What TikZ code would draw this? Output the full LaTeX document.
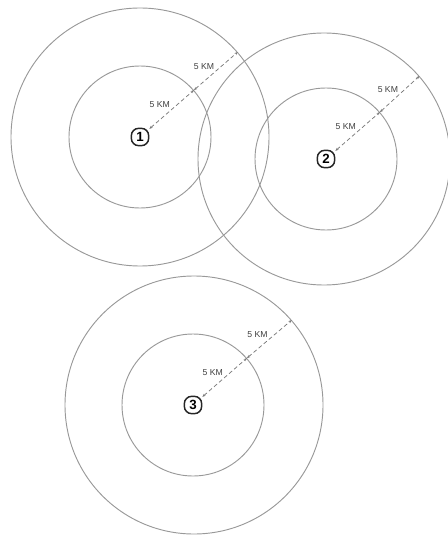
\documentclass[tikz,border=0pt]{standalone}
\usepackage{fontspec}
\setsansfont{Liberation Sans}
\usetikzlibrary{arrows.meta}

\begin{document}
\begin{tikzpicture}[
    x=0.75pt, y=-0.75pt,
    ring/.style={draw=gray!80, line width=0.7pt, circle, inner sep=0pt},
    inner ring/.style={ring, minimum size=106.5pt},
    site/.style={draw=black!85, line width=1.1pt, rounded corners=5.5pt, minimum size=13pt, inner sep=0pt, font=\sffamily\bfseries},
    radius/.style={gray!95!black, line width=0.55pt, densely dashed, {Stealth[length=2.5pt,width=2pt]}-{Stealth[length=2.5pt,width=2pt]}},
    dist/.style={font=\sffamily\fontsize{6.5}{7}\selectfont, text=black!75, inner sep=1pt}
]
\useasboundingbox (0,0) rectangle (448,538);

% zone 1
\node[ring, minimum size=193.5pt] (out1) at (140,137) {};
\node[inner ring] (in1) at (140,137) {};
\node[site] (s1) at (140,137) {1};

% zone 2
\node[ring, minimum size=189pt] (out2) at (324,159) {};
\node[inner ring] (in2) at (326,159) {};
\node[site] (s2) at (326,159) {2};

% zone 3
\node[ring, minimum size=193.5pt] (out3) at (194,405) {};
\node[inner ring] (in3) at (193,405) {};
\node[site] (s3) at (193,405) {3};

% radii
\draw[radius] (s1.41) -- node[dist, above left] {5 KM} (in1.41);
\draw[radius] (in1.41) -- node[dist, above left] {5 KM} (out1.41);
\draw[radius] (s2.41) -- node[dist, above left] {5 KM} (in2.41);
\draw[radius] (in2.41) -- node[dist, above left] {5 KM} (out2.41);
\draw[radius] (s3.41) -- node[dist, above left] {5 KM} (in3.41);
\draw[radius] (in3.41) -- node[dist, above left] {5 KM} (out3.41);
\end{tikzpicture}
\end{document}
